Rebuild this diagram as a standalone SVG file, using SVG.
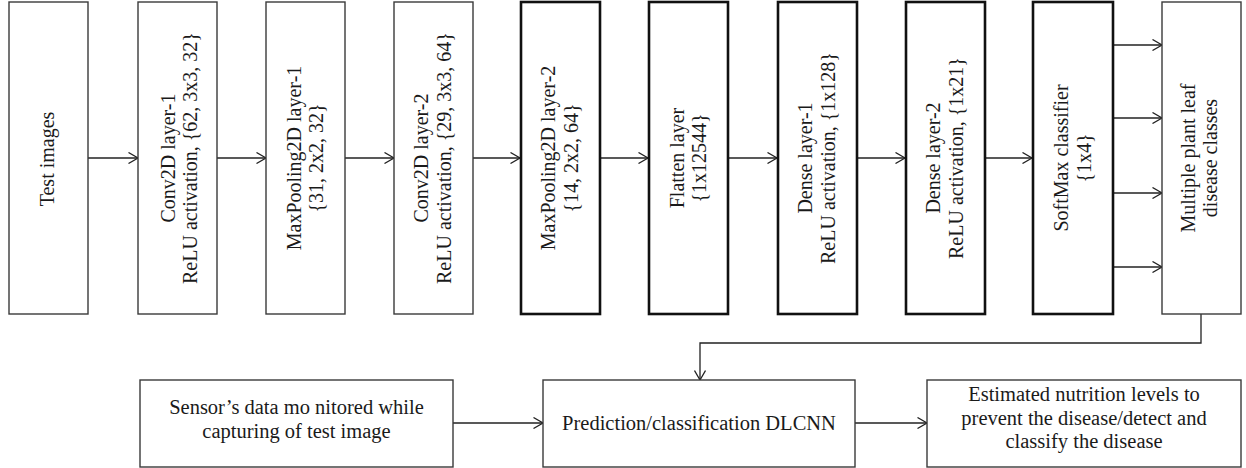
<svg xmlns="http://www.w3.org/2000/svg" width="1246" height="468" viewBox="0 0 1246 468">
  <style>
    .thin { fill: #ffffff; stroke: #3a3a3a; stroke-width: 1.4; }
    .bold { fill: #ffffff; stroke: #111111; stroke-width: 2.6; }
    .lbl { font-family: "Liberation Serif", "Times New Roman", serif; font-size: 20px; fill: #1a1a1a; text-anchor: middle; }
    .lbl2 { font-family: "Liberation Serif", "Times New Roman", serif; font-size: 20.5px; fill: #1a1a1a; text-anchor: middle; }
    .conn { fill: none; stroke: #222222; stroke-width: 1.3; }
  </style>
  <defs>
    <marker id="arr" markerUnits="userSpaceOnUse" viewBox="0 0 12 12" refX="10.5" refY="6" markerWidth="12" markerHeight="12" orient="auto">
      <path d="M1,0.5 L10.5,6 L1,11.5" fill="none" stroke="#222222" stroke-width="1.3"/>
    </marker>
  </defs>
  <rect width="1246" height="468" fill="#ffffff"/>

  <g id="connectors">
    <line class="conn" x1="88" y1="158" x2="138" y2="158" marker-end="url(#arr)"/>
    <line class="conn" x1="217" y1="158" x2="266" y2="158" marker-end="url(#arr)"/>
    <line class="conn" x1="345" y1="158" x2="394" y2="158" marker-end="url(#arr)"/>
    <line class="conn" x1="473" y1="158" x2="520" y2="158" marker-end="url(#arr)"/>
    <line class="conn" x1="601" y1="158" x2="648" y2="158" marker-end="url(#arr)"/>
    <line class="conn" x1="729" y1="158" x2="777" y2="158" marker-end="url(#arr)"/>
    <line class="conn" x1="858" y1="158" x2="905" y2="158" marker-end="url(#arr)"/>
    <line class="conn" x1="986" y1="158" x2="1032" y2="158" marker-end="url(#arr)"/>
    <line class="conn" x1="1113" y1="45" x2="1162" y2="45" marker-end="url(#arr)"/>
    <line class="conn" x1="1113" y1="118" x2="1162" y2="118" marker-end="url(#arr)"/>
    <line class="conn" x1="1113" y1="193" x2="1162" y2="193" marker-end="url(#arr)"/>
    <line class="conn" x1="1113" y1="267" x2="1162" y2="267" marker-end="url(#arr)"/>
    <path class="conn" d="M1201,314 V343 H700 V380" marker-end="url(#arr)"/>
    <line class="conn" x1="453" y1="423" x2="543" y2="423" marker-end="url(#arr)"/>
    <line class="conn" x1="855" y1="423" x2="927" y2="423" marker-end="url(#arr)"/>
  </g>

  <g id="n1">
    <rect class="thin" x="9" y="2" width="79" height="312"/>
    <text class="lbl" transform="translate(48.5,159) rotate(-90)"><tspan x="0" y="5">Test images</tspan></text>
  </g>
  <g id="n2">
    <rect class="thin" x="138" y="2" width="79" height="312"/>
    <text class="lbl" transform="translate(177.5,158) rotate(-90)"><tspan x="0" y="-3">Conv2D layer-1</tspan><tspan x="0" y="19.5">ReLU activation, {62, 3x3, 32}</tspan></text>
  </g>
  <g id="n3">
    <rect class="thin" x="266" y="2" width="79" height="312"/>
    <text class="lbl" transform="translate(305.5,158) rotate(-90)"><tspan x="0" y="-5">MaxPooling2D layer-1</tspan><tspan x="0" y="17.5">{31, 2x2, 32}</tspan></text>
  </g>
  <g id="n4">
    <rect class="thin" x="394" y="2" width="79" height="312"/>
    <text class="lbl" transform="translate(433.5,158) rotate(-90)"><tspan x="0" y="-5.5">Conv2D layer-2</tspan><tspan x="0" y="17">ReLU activation, {29, 3x3, 64}</tspan></text>
  </g>
  <g id="n5">
    <rect class="bold" x="521" y="2" width="79" height="312"/>
    <text class="lbl" transform="translate(560.5,158) rotate(-90)"><tspan x="0" y="-5.5">MaxPooling2D layer-2</tspan><tspan x="0" y="17">{14, 2x2, 64}</tspan></text>
  </g>
  <g id="n6">
    <rect class="bold" x="649" y="2" width="79" height="312"/>
    <text class="lbl" transform="translate(688.5,158) rotate(-90)"><tspan x="0" y="-5">Flatten layer</tspan><tspan x="0" y="17.5">{1x12544}</tspan></text>
  </g>
  <g id="n7">
    <rect class="bold" x="778" y="2" width="79" height="312"/>
    <text class="lbl" transform="translate(817.5,158) rotate(-90)"><tspan x="0" y="-5.5">Dense layer-1</tspan><tspan x="0" y="17">ReLU activation, {1x128}</tspan></text>
  </g>
  <g id="n8">
    <rect class="bold" x="906" y="2" width="79" height="312"/>
    <text class="lbl" transform="translate(945.5,158) rotate(-90)"><tspan x="0" y="-5.5">Dense layer-2</tspan><tspan x="0" y="17">ReLU activation, {1x21}</tspan></text>
  </g>
  <g id="n9">
    <rect class="bold" x="1033" y="2" width="80" height="312"/>
    <text class="lbl" transform="translate(1073,158) rotate(-90)"><tspan x="0" y="-5">SoftMax classifier</tspan><tspan x="0" y="17.5">{1x4}</tspan></text>
  </g>
  <g id="n10">
    <rect class="thin" x="1162" y="2" width="79" height="312"/>
    <text class="lbl" transform="translate(1201.5,158) rotate(-90)"><tspan x="0" y="-7">Multiple plant leaf</tspan><tspan x="0" y="15.5">disease classes</tspan></text>
  </g>

  <g id="sensor">
    <rect class="thin" x="140" y="380" width="313" height="87"/>
    <text class="lbl2"><tspan x="296.5" y="414">Sensor’s data mo nitored while</tspan><tspan x="296.5" y="437.5">capturing of test image</tspan></text>
  </g>
  <g id="predict">
    <rect class="thin" x="543" y="380" width="312" height="87"/>
    <text class="lbl2" x="699" y="430">Prediction/classification DLCNN</text>
  </g>
  <g id="estimate">
    <rect class="thin" x="927" y="380" width="314" height="87"/>
    <text class="lbl2"><tspan x="1084" y="401">Estimated nutrition levels to</tspan><tspan x="1084" y="424.5">prevent the disease/detect and</tspan><tspan x="1084" y="448">classify the disease</tspan></text>
  </g>
</svg>
